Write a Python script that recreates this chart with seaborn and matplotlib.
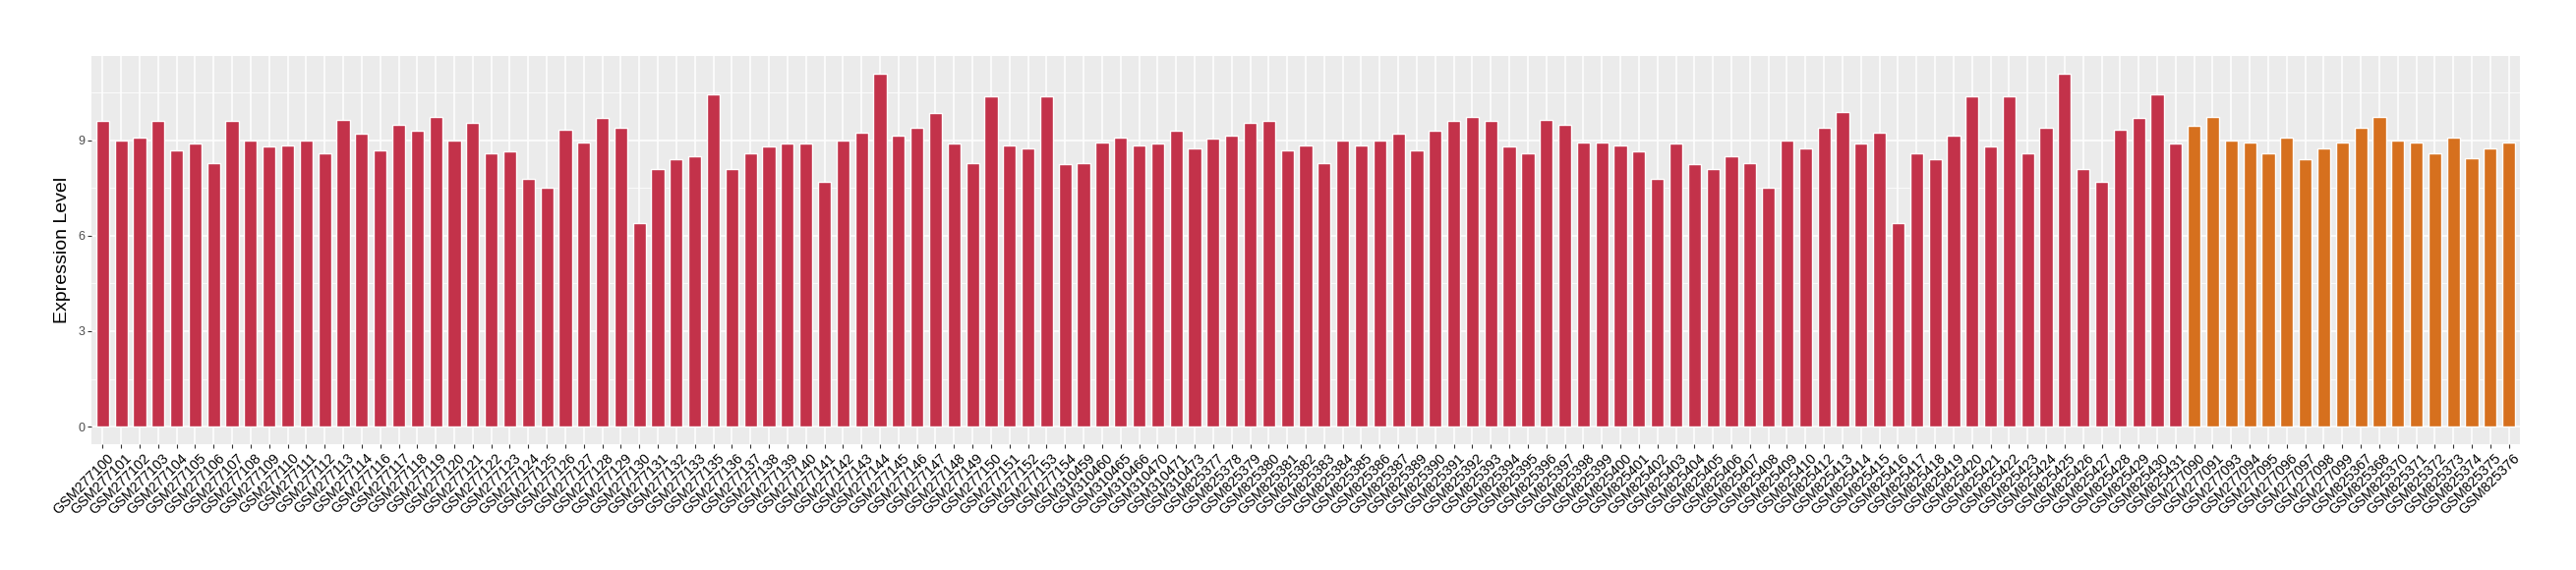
import numpy as np
import pandas as pd
import matplotlib
matplotlib.use("Agg")
import matplotlib.pyplot as plt
import matplotlib.transforms as mtransforms
from matplotlib.ticker import MultipleLocator
import seaborn as sns

# sample ids in plotting order
samples_red = (
    [f"GSM2771{i:02d}" for i in range(0, 15)]
    + [f"GSM2771{i:02d}" for i in range(16, 34)]
    + [f"GSM2771{i:02d}" for i in range(35, 55)]
    + ["GSM310459", "GSM310460", "GSM310465", "GSM310466", "GSM310470", "GSM310471", "GSM310473"]
    + [f"GSM825{i}" for i in range(377, 388)]
    + [f"GSM825{i}" for i in range(389, 411)]
    + [f"GSM825{i}" for i in range(412, 432)]
)
samples_orange = [
    "GSM277090", "GSM277091", "GSM277093", "GSM277094", "GSM277095",
    "GSM277096", "GSM277097", "GSM277098", "GSM277099",
    "GSM825367", "GSM825368", "GSM825370", "GSM825371", "GSM825372",
    "GSM825373", "GSM825374", "GSM825375", "GSM825376",
]

expr_red = [
    9.6, 9.0, 9.1, 9.6, 8.7, 8.9, 8.3, 9.6, 9.0, 8.8,
    8.85, 9.0, 8.6, 9.65, 9.2, 8.7, 9.5, 9.3, 9.75, 9.0,
    9.55, 8.6, 8.65, 7.8, 7.5, 9.35, 8.95, 9.7, 9.4, 6.4,
    8.1, 8.4, 8.5, 10.45, 8.1, 8.6, 8.8, 8.9, 8.9, 7.7,
    9.0, 9.25, 11.1, 9.15, 9.4, 9.85, 8.9, 8.3, 10.4, 8.85,
    8.75, 10.4, 8.25, 8.3, 8.95, 9.1, 8.85, 8.9, 9.3, 8.75,
    9.05, 9.15, 9.55, 9.6, 8.7, 8.85, 8.3, 9.0, 8.85, 9.0,
    9.2, 8.7, 9.3, 9.6, 9.75, 9.6, 8.8, 8.6, 9.65, 9.5,
    8.95, 8.95, 8.85, 8.65, 7.8, 8.9, 8.25, 8.1, 8.5, 8.3,
    7.5, 9.0, 8.75, 9.4, 9.9, 8.9, 9.25, 6.4, 8.6, 8.4,
    9.15, 10.4, 8.8, 10.4, 8.6, 9.4, 11.1, 8.1, 7.7, 9.35,
    9.7, 10.45, 8.9,
]
expr_orange = [
    9.45, 9.75, 9.0, 8.95, 8.6, 9.1, 8.4, 8.75, 8.95,
    9.4, 9.75, 9.0, 8.95, 8.6, 9.1, 8.45, 8.75, 8.95,
]

RED = "#C3324A"
ORANGE = "#D6701E"

df = pd.DataFrame({
    "sample": samples_red + samples_orange,
    "expr": expr_red + expr_orange,
    "group": ["A"] * len(samples_red) + ["B"] * len(samples_orange),
})

sns.set_theme(style="darkgrid", rc={
    "axes.facecolor": "#EBEBEB",
    "grid.color": "white",
    "axes.edgecolor": "#EBEBEB",
})
plt.rcParams["font.family"] = ["Liberation Sans", "DejaVu Sans"]

fig = plt.figure(figsize=(26.2, 5.8), dpi=100)
ax = fig.add_axes([93 / 2620, 1 - 452 / 580, (2563 - 93) / 2620, (452 - 57) / 580])

sns.barplot(data=df, x="sample", y="expr", hue="group",
            palette={"A": RED, "B": ORANGE}, dodge=False, width=0.7,
            saturation=1, legend=False, ax=ax, zorder=3)

n = len(df)
ax.set_xlim(-0.6, n - 1 + 0.6)
ax.set_ylim(-0.555, 11.655)
ax.yaxis.set_major_locator(MultipleLocator(3))
ax.yaxis.set_minor_locator(MultipleLocator(1.5))
ax.grid(True, which="major", color="white", linewidth=1.1)
ax.grid(True, which="minor", axis="y", color="white", linewidth=0.55)
ax.set_axisbelow(True)
for s in ax.spines.values():
    s.set_visible(False)

ax.set_xlabel("")
ax.set_ylabel("Expression Level", fontsize=14, color="black", labelpad=5)
ax.tick_params(axis="both", which="major", length=3, width=0.8, color="#333333",
               bottom=True, left=True, pad=2)
ax.tick_params(axis="y", which="minor", length=0)
ax.tick_params(axis="y", labelsize=9, labelcolor="#4D4D4D")
ax.set_xticks(range(n))
ax.set_xticklabels(df["sample"], rotation=45, ha="right", va="top",
                   rotation_mode="anchor", fontsize=10.4, color="black")
shift = mtransforms.ScaledTranslation(4 / 100, 0, fig.dpi_scale_trans)
for lab in ax.get_xticklabels():
    lab.set_transform(lab.get_transform() + shift)

fig.savefig("out.png", dpi=100)
